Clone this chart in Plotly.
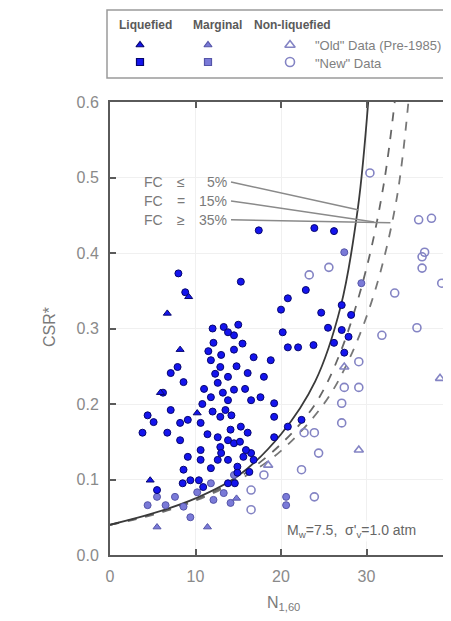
import plotly.graph_objects as go

# ---------------- data ----------------
liq_new_N = [17.4, 23.9, 26.2, 8.0, 15.3, 8.8, 20.8, 22.9, 20.0, 24.7, 27.1, 28.2,
             13.3, 12.1, 14.5, 14.5, 11.8, 12.9, 13.8, 12.6, 14.5, 11.8, 7.9, 7.1,
             8.6, 16.8, 18.8, 16.1, 18.0, 20.2, 20.8, 22.0, 23.8, 26.2, 27.1, 27.9,
             27.4, 25.5, 6.2, 4.4, 5.1, 7.1, 8.2, 9.1, 10.6, 3.8, 6.7, 8.2, 12.6,
             13.8, 12.9, 14.5, 16.1, 16.5, 16.8, 14.9, 13.8, 12.6, 9.1, 10.6, 8.6,
             10.6, 9.4, 10.9, 5.5, 19.2, 20.8, 22.4, 19.2, 17.6, 19.2, 15.3, 14.1,
             15.9, 13.5, 13.8, 16.5, 12.9, 15.6, 14.9, 13.8, 10.4, 8.5,
             12.0, 13.8, 15.0, 11.5, 13.0, 15.5, 12.3, 14.8, 11.0, 13.2, 15.8, 12.0,
             14.2, 11.4, 15.2, 13.0, 11.8, 14.6, 16.3, 10.8]
liq_new_CSR = [0.430, 0.433, 0.429, 0.373, 0.362, 0.348, 0.340, 0.351, 0.325, 0.321, 0.331, 0.318,
               0.302, 0.281, 0.291, 0.272, 0.258, 0.249, 0.236, 0.228, 0.219, 0.209, 0.249, 0.241,
               0.229, 0.262, 0.258, 0.241, 0.236, 0.295, 0.275, 0.275, 0.278, 0.281, 0.298, 0.289,
               0.268, 0.301, 0.215, 0.185, 0.176, 0.192, 0.175, 0.179, 0.175, 0.162, 0.162, 0.152, 0.156,
               0.152, 0.143, 0.148, 0.162, 0.135, 0.126, 0.117, 0.126, 0.126, 0.130, 0.139, 0.113,
               0.126, 0.099, 0.090, 0.086, 0.183, 0.170, 0.179, 0.156, 0.209, 0.201, 0.170, 0.166,
               0.139, 0.192, 0.205, 0.205, 0.183, 0.130, 0.109, 0.095, 0.099, 0.095,
               0.300, 0.295, 0.305, 0.270, 0.265, 0.280, 0.240, 0.250, 0.220, 0.215, 0.220, 0.190,
               0.185, 0.160, 0.150, 0.135, 0.115, 0.095, 0.110, 0.200]

liq_old_N = [6.7, 4.7, 8.2, 5.9, 10.2, 9.2]
liq_old_CSR = [0.320, 0.099, 0.272, 0.215, 0.188, 0.342]

marg_new_N = [5.5, 4.4, 6.5, 7.6, 10.2, 11.8, 13.3, 14.1, 8.6, 9.4, 20.6, 20.6, 27.4, 29.4, 14.5, 12.1]
marg_new_CSR = [0.077, 0.066, 0.066, 0.077, 0.083, 0.095, 0.082, 0.069, 0.064, 0.050, 0.077, 0.066,
                0.401, 0.360, 0.106, 0.073]

marg_old_N = [5.5, 11.4, 14.8]
marg_old_CSR = [0.037, 0.037, 0.075]

non_new_N = [30.4, 36.1, 37.6, 36.8, 23.3, 25.6, 33.3, 36.5, 36.5, 38.8, 35.9, 31.8, 29.1,
             27.4, 29.1, 22.7, 23.9, 24.4, 22.4, 27.1, 27.1, 23.9, 16.5, 16.5, 18.0]
non_new_CSR = [0.506, 0.444, 0.446, 0.401, 0.371, 0.381, 0.347, 0.395, 0.380, 0.360, 0.301, 0.291, 0.256,
               0.222, 0.222, 0.162, 0.162, 0.135, 0.113, 0.201, 0.175, 0.077, 0.086, 0.060, 0.106]

non_old_N = [38.6, 29.1, 27.4, 18.5]
non_old_CSR = [0.234, 0.139, 0.249, 0.119]

# boundary curves
fc35_N = [0, 5, 10, 15, 20, 24, 27, 29, 30.2]
fc35_CSR = [0.04, 0.055, 0.075, 0.105, 0.16, 0.23, 0.33, 0.46, 0.6]
fc15_N = [0, 5, 10, 15, 20, 24, 27, 30, 32, 33.3]
fc15_CSR = [0.04, 0.054, 0.073, 0.102, 0.147, 0.2, 0.27, 0.38, 0.49, 0.6]
fc5_N = [0, 5, 10, 15, 20, 25, 28, 31, 33.5, 34.9]
fc5_CSR = [0.04, 0.053, 0.072, 0.099, 0.138, 0.2, 0.26, 0.35, 0.47, 0.6]

fc_signs = ["\u2264", "=", "\u2265"]
fc_values = ["5%", "15%", "35%"]
fc_label_CSR = [0.494, 0.469, 0.444]
lead_end_N = [29.1, 30.9, 32.8]
lead_end_CSR = [0.457, 0.441, 0.440]

x_ticks = [0, 10, 20, 30, 40]
y_ticks = [0.0, 0.1, 0.2, 0.3, 0.4, 0.5, 0.6]

# ---------------- styling ----------------
FONT = "Arial, Liberation Sans, sans-serif"
LIQ_FILL, LIQ_EDGE = "#1414ee", "#06066e"
MARG_FILL, MARG_EDGE = "#7a7ad8", "#5555a8"
NON_EDGE = "#8484c4"
TXT = "#7a7a7a"

# the page body adds an 8px offset; layout numbers below are in page pixels
OFF = 8
W, H = 451, 621
ML, MR, MT = 110 - OFF, 7, 0
PLOT_BOTTOM = 555 - OFF
MB = H - PLOT_BOTTOM
ph = H - MT - MB
main_top = 453 / ph
pw = W - ML - MR


def px(p):
    return (p - 110) / pw


def py(p):
    return (555 - p) / ph


def nx(p):  # page x -> N value
    return (p - 110) / pw * 40


fig = go.Figure()

# curves
for n, c, col, dash in [(fc5_N, fc5_CSR, "#777777", "dash"),
                        (fc15_N, fc15_CSR, "#666666", "dash"),
                        (fc35_N, fc35_CSR, "#3a3a3a", "solid")]:
    fig.add_trace(go.Scatter(x=n, y=c, mode="lines", line=dict(color=col, width=1.8, dash=dash, shape="spline"),
                             hoverinfo="skip", showlegend=False))

# leader lines
for i in range(3):
    fig.add_trace(go.Scatter(x=[nx(231), lead_end_N[i]], y=[fc_label_CSR[i], lead_end_CSR[i]], mode="lines",
                             line=dict(color="#8a8a8a", width=1.5), hoverinfo="skip", showlegend=False))


def pts(n, c, sym, fill, edge, size=7, lw=1):
    fig.add_trace(go.Scatter(x=n, y=c, mode="markers", showlegend=False,
                             marker=dict(symbol=sym, size=size, color=fill, line=dict(color=edge, width=lw))))


pts(non_new_N, non_new_CSR, "circle-open", NON_EDGE, NON_EDGE, 8, 1.6)
pts(non_old_N, non_old_CSR, "triangle-up-open", NON_EDGE, NON_EDGE, 8, 1.6)
pts(marg_new_N, marg_new_CSR, "circle", MARG_FILL, MARG_EDGE)
pts(marg_old_N, marg_old_CSR, "triangle-up", MARG_FILL, MARG_EDGE)
pts(liq_new_N, liq_new_CSR, "circle", LIQ_FILL, LIQ_EDGE)
pts(liq_old_N, liq_old_CSR, "triangle-up", LIQ_FILL, LIQ_EDGE)

# legend symbols on an overlay axis (page-pixel coordinates)
leg_x = [140, 208, 290]
leg_y = [45, 62]
leg_syms = [["triangle-up", "triangle-up", "triangle-up-open"], ["square", "square", "circle-open"]]
leg_fill = [LIQ_FILL, MARG_FILL, NON_EDGE]
leg_edge = [LIQ_EDGE, MARG_EDGE, NON_EDGE]
for r in range(2):
    for k in range(3):
        fig.add_trace(go.Scatter(x=[leg_x[k]], y=[leg_y[r]], mode="markers", xaxis="x2", yaxis="y2",
                                 showlegend=False, hoverinfo="skip",
                                 marker=dict(symbol=leg_syms[r][k], size=7 if k < 2 else 9,
                                             color=leg_fill[k],
                                             line=dict(color=leg_edge[k], width=1.2 if k < 2 else 1.6))))

axis_common = dict(showline=True, linecolor="#5a5a5a", linewidth=2, mirror="ticks", ticks="inside",
                   ticklen=6, tickcolor="#5a5a5a", tickwidth=1.5, showgrid=True, gridcolor="#f0f0f0",
                   zeroline=False, automargin=False, ticklabelstandoff=6,
                   tickfont=dict(family=FONT, size=16, color="#8a8a8a"))

fig.update_layout(
    width=W, height=H, margin=dict(l=ML, r=MR, t=MT, b=MB, autoexpand=False),
    paper_bgcolor="white", plot_bgcolor="white",
    font=dict(family=FONT),
    xaxis=dict(range=[0, 40], tickvals=x_ticks, **axis_common),
    yaxis=dict(range=[0, 0.6], tickvals=y_ticks, tickformat=".1f", domain=[0, main_top], **axis_common),
    xaxis2=dict(range=[110, 452], domain=[0, 1], anchor="y2", visible=False, automargin=False),
    yaxis2=dict(range=[78, 10], domain=[py(78), py(10)], anchor="x2", visible=False, automargin=False),
)

# legend box
fig.add_shape(type="rect", xref="paper", yref="paper", x0=px(107), x1=px(470), y0=py(78), y1=py(10),
              line=dict(color="#9a9a9a", width=1.5), fillcolor="rgba(0,0,0,0)")


def note(x, y, text, size, color=TXT, xa="center", ya="middle", **kw):
    fig.add_annotation(x=x, y=y, xref="paper", yref="paper", text=text, showarrow=False,
                       xanchor=xa, yanchor=ya, font=dict(size=size, color=color, family=FONT), **kw)


for txt, cx in [("Liquefied", 145), ("Marginal", 217), ("Non-liquefied", 292)]:
    note(px(cx), py(25), "<b>" + txt + "</b>", 12, "#5a5a5a")
for txt, yy in [('"Old" Data (Pre-1985)', 46), ('"New" Data', 63)]:
    note(px(313), py(yy), txt, 13, "#808080", xa="left")

# FC labels (three columns: "FC", sign, value)
for i in range(3):
    note(px(142), py(555 - fc_label_CSR[i] * 755), "FC", 14, xa="left")
    note(px(181), py(555 - fc_label_CSR[i] * 755), fc_signs[i], 14)
    note(px(229), py(555 - fc_label_CSR[i] * 755), fc_values[i], 14, xa="right")

# condition label
note(px(351), py(531), "M<sub>w</sub>=7.5,  \u03c3'<sub>v</sub>=1.0 atm", 14, "#666666",
     bgcolor="rgba(255,255,255,0.7)")

# axis titles
note(px(49), py(327), "CSR*", 16, textangle=-90)
note(px(283), py(603), "N<sub>1,60</sub>", 16)

fig.write_html("out.html")
